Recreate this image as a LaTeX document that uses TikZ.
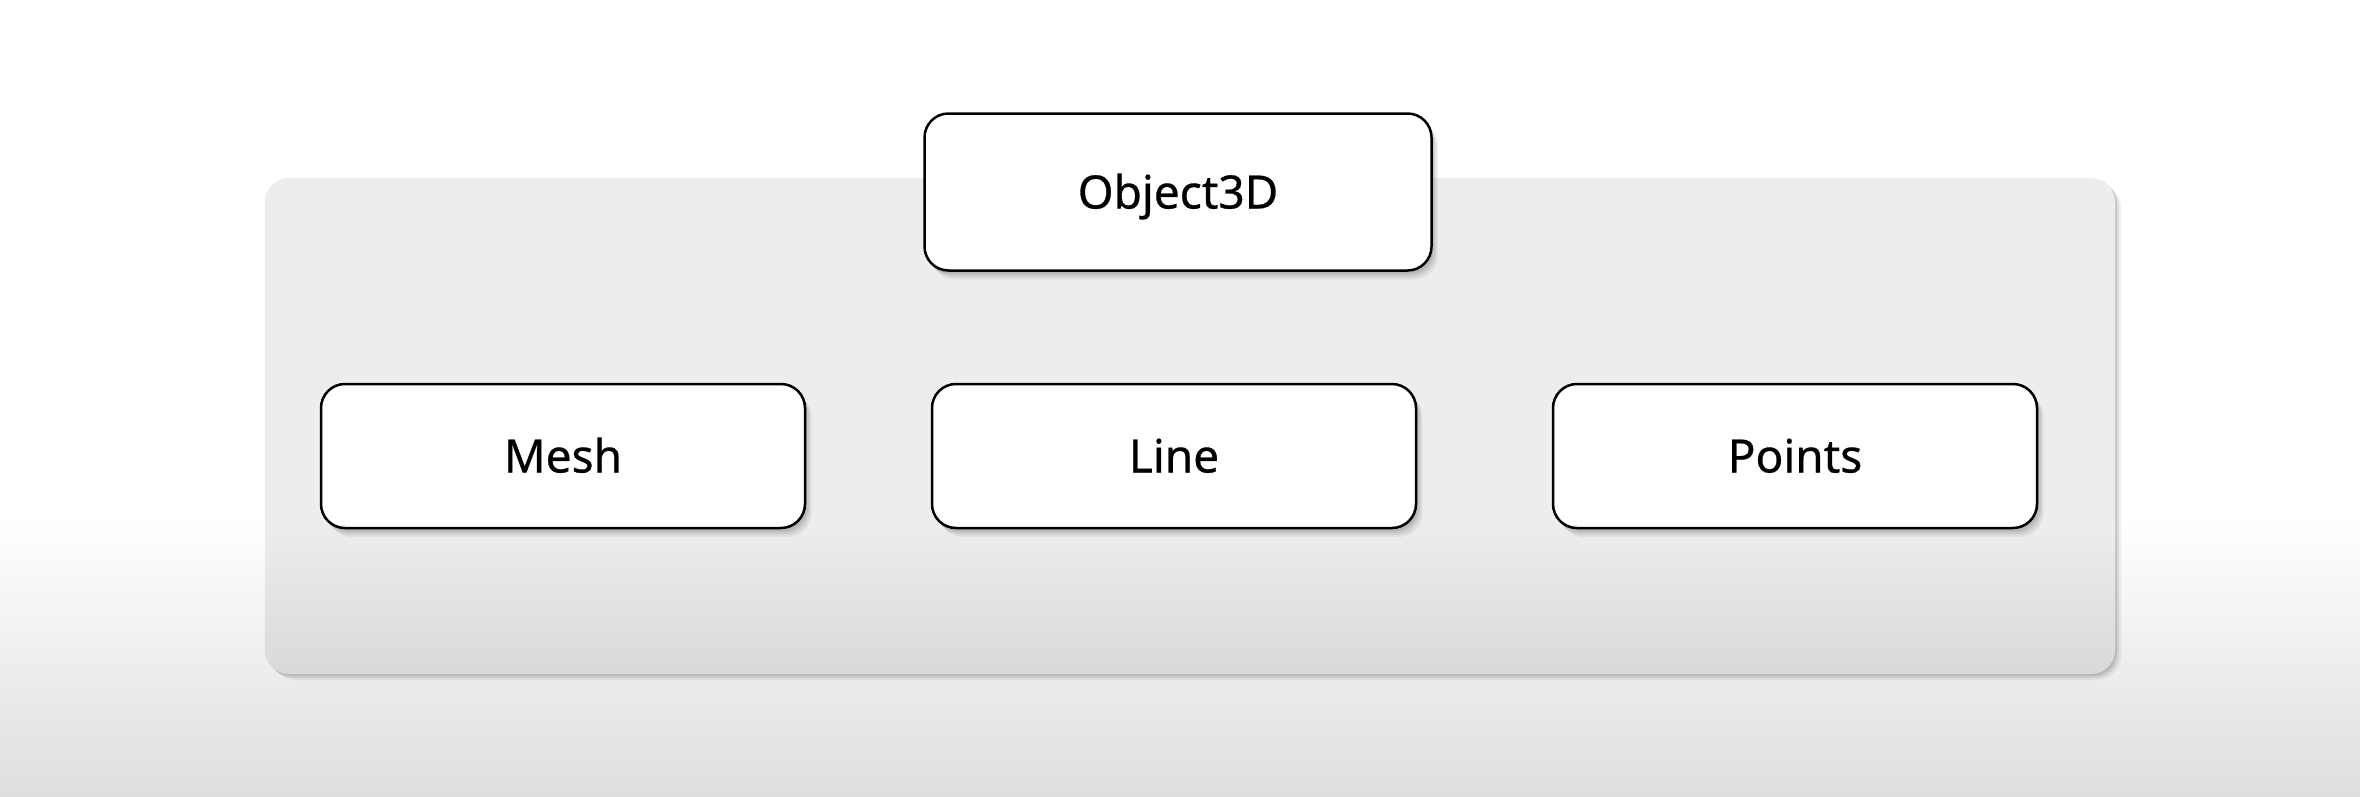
\documentclass[tikz,border=0pt]{standalone}
\usepackage{fontspec}
\setmainfont{Noto Sans}[FakeBold=0.6]
\usetikzlibrary{shadows}
\definecolor{panelTop}{HTML}{EDEDED}
\definecolor{panelBot}{HTML}{D9D9D9}
\definecolor{bgBot}{HTML}{DEDEDE}
\pgfdeclareverticalshading{bgshade}{100bp}{color(0bp)=(bgBot); color(25bp)=(bgBot); color(42.5bp)=(white); color(100bp)=(white)}
\pgfdeclareverticalshading{panelshade}{100bp}{color(0bp)=(panelBot); color(25bp)=(panelBot); color(40bp)=(panelTop); color(100bp)=(panelTop)}
\tikzset{
  softshadow/.style={
    general shadow={fill=black, opacity=0.07, shadow xshift=2pt, shadow yshift=-3pt},
    general shadow={fill=black, opacity=0.07, shadow xshift=3.5pt, shadow yshift=-5pt},
    general shadow={fill=black, opacity=0.06, shadow xshift=5pt, shadow yshift=-7pt},
    general shadow={fill=black, opacity=0.05, shadow xshift=6.5pt, shadow yshift=-9pt}},
  panelbox/.style={rectangle, rounded corners=24pt, shading=panelshade, draw=none,
    minimum width=1850pt, minimum height=496pt, inner sep=0pt,
    general shadow={fill=black, opacity=0.10, shadow xshift=2pt, shadow yshift=-2pt},
    general shadow={fill=black, opacity=0.08, shadow xshift=4pt, shadow yshift=-4pt},
    general shadow={fill=black, opacity=0.05, shadow xshift=6pt, shadow yshift=-6pt}},
  classbox/.style={rectangle, rounded corners=24pt, draw=black, line width=2.5pt, fill=white,
    minimum width=484pt, minimum height=144pt, inner sep=0pt, softshadow,
    text height=33pt, text depth=0pt,
    font=\fontsize{46}{55}\selectfont}
}
\begin{document}
\begin{tikzpicture}[x=1pt,y=-1pt]
\useasboundingbox (0,0) rectangle (2360,796);
\shade[shading=bgshade] (0,0) rectangle (2360,796);
\node[panelbox] (panel) at (1190,426) {};
\node[classbox, minimum width=507pt, minimum height=157pt] (obj) at (1178,192) {Object3D};
\node[classbox] (mesh) at (563,456) {Mesh};
\node[classbox] (line) at (1174,456) {Line};
\node[classbox] (points) at (1795,456) {Points};
\end{tikzpicture}
\end{document}
